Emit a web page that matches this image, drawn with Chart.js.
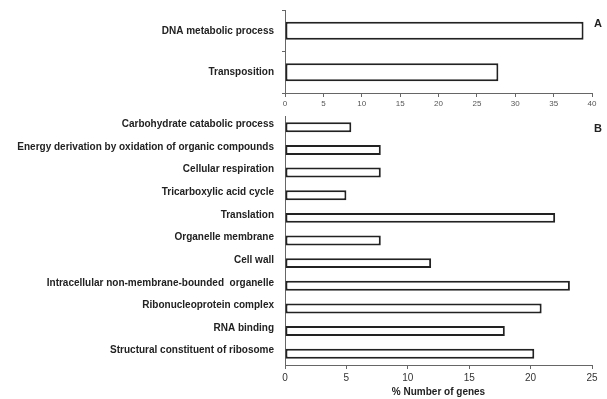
<!DOCTYPE html>
<html>
<head>
<meta charset="utf-8">
<script src="https://cdn.jsdelivr.net/npm/chart.js@4"></script>
<style>
  html, body { margin: 0; padding: 0; background: #fff; }
  #wrap { position: relative; width: 607px; height: 399px; }
  canvas { position: absolute; left: 0; }
  #chartA { top: 0; }
  #chartB { top: 110px; }
</style>
</head>
<body>
<div id="wrap">
  <canvas id="chartA" width="607" height="112"></canvas>
  <canvas id="chartB" width="607" height="289"></canvas>
</div>
<script>
const panelALabels = ["DNA metabolic process", "Transposition"];
const panelAValues = [38.9, 27.8];

const panelBLabels = [
  "Carbohydrate catabolic process",
  "Energy derivation by oxidation of organic compounds",
  "Cellular respiration",
  "Tricarboxylic acid cycle",
  "Translation",
  "Organelle membrane",
  "Cell wall",
  "Intracellular non-membrane-bounded  organelle",
  "Ribonucleoprotein complex",
  "RNA binding",
  "Structural constituent of ribosome",
];
const panelBValues = [5.4, 7.8, 7.8, 5.0, 22.0, 7.8, 11.9, 23.2, 20.9, 17.9, 20.3];

const FONT = "'Liberation Sans', Arial, sans-serif";
const AXIS = "#666";

// letter in the top right corner of each panel
function panelLetter(letter, y) {
  return {
    id: "letter" + letter,
    afterDraw(chart) {
      const ctx = chart.ctx;
      ctx.save();
      ctx.font = "bold 11px " + FONT;
      ctx.fillStyle = "#222";
      ctx.textAlign = "left";
      ctx.textBaseline = "middle";
      ctx.fillText(letter, 594, y);
      ctx.restore();
    },
  };
}

function makeChart(id, labels, values, opts) {
  return new Chart(document.getElementById(id), {
    type: "bar",
    data: {
      labels: labels,
      datasets: [{
        data: values,
        backgroundColor: "#fff",
        borderColor: "#222",
        borderWidth: 2,
        borderSkipped: false,
        categoryPercentage: 1,
        barPercentage: opts.barPct,
      }],
    },
    options: {
      indexAxis: "y",
      responsive: false,
      animation: false,
      layout: { padding: { top: opts.top, right: 15, left: 0, bottom: 0 } },
      plugins: { legend: { display: false }, tooltip: { enabled: false } },
      scales: {
        x: {
          min: 0, max: opts.max,
          ticks: { stepSize: 5, color: opts.tickColor, padding: opts.tickPad, font: { family: FONT, size: opts.tickSize } },
          grid: { drawOnChartArea: false, drawTicks: true, tickLength: 4, color: AXIS },
          border: { display: true, color: AXIS },
          title: opts.title ? {
            display: true, text: opts.title, color: "#222",
            font: { family: FONT, size: 10, weight: "bold" }, padding: { top: 0, bottom: 1 },
          } : { display: false },
          afterFit(scale) { scale.height = opts.xHeight; },
        },
        y: {
          ticks: { color: "#222", padding: opts.yPad, labelOffset: opts.labelOffset, font: { family: FONT, size: 10, weight: "bold" } },
          grid: { display: opts.yTicks, drawOnChartArea: false, tickLength: 3, color: AXIS },
          border: { display: true, color: AXIS },
          afterFit(scale) {
            scale.width = 285;
            scale.paddingTop = 0;
            scale.paddingBottom = 0;
          },
        },
      },
    },
    plugins: [panelLetter(opts.letter, opts.letterY)],
  });
}

makeChart("chartA", panelALabels, panelAValues, {
  max: 40, barPct: 0.43, top: 10, xHeight: 19, tickSize: 8, tickPad: 2, tickColor: "#555",
  yPad: 8, yTicks: true, labelOffset: 0, letter: "A", letterY: 24,
});

makeChart("chartB", panelBLabels, panelBValues, {
  max: 25, barPct: 0.44, top: 6, xHeight: 34, tickSize: 10, tickPad: 3, tickColor: "#333",
  yPad: 8, yTicks: false, labelOffset: -3, title: "% Number of genes", letter: "B", letterY: 19,
});
</script>
</body>
</html>
